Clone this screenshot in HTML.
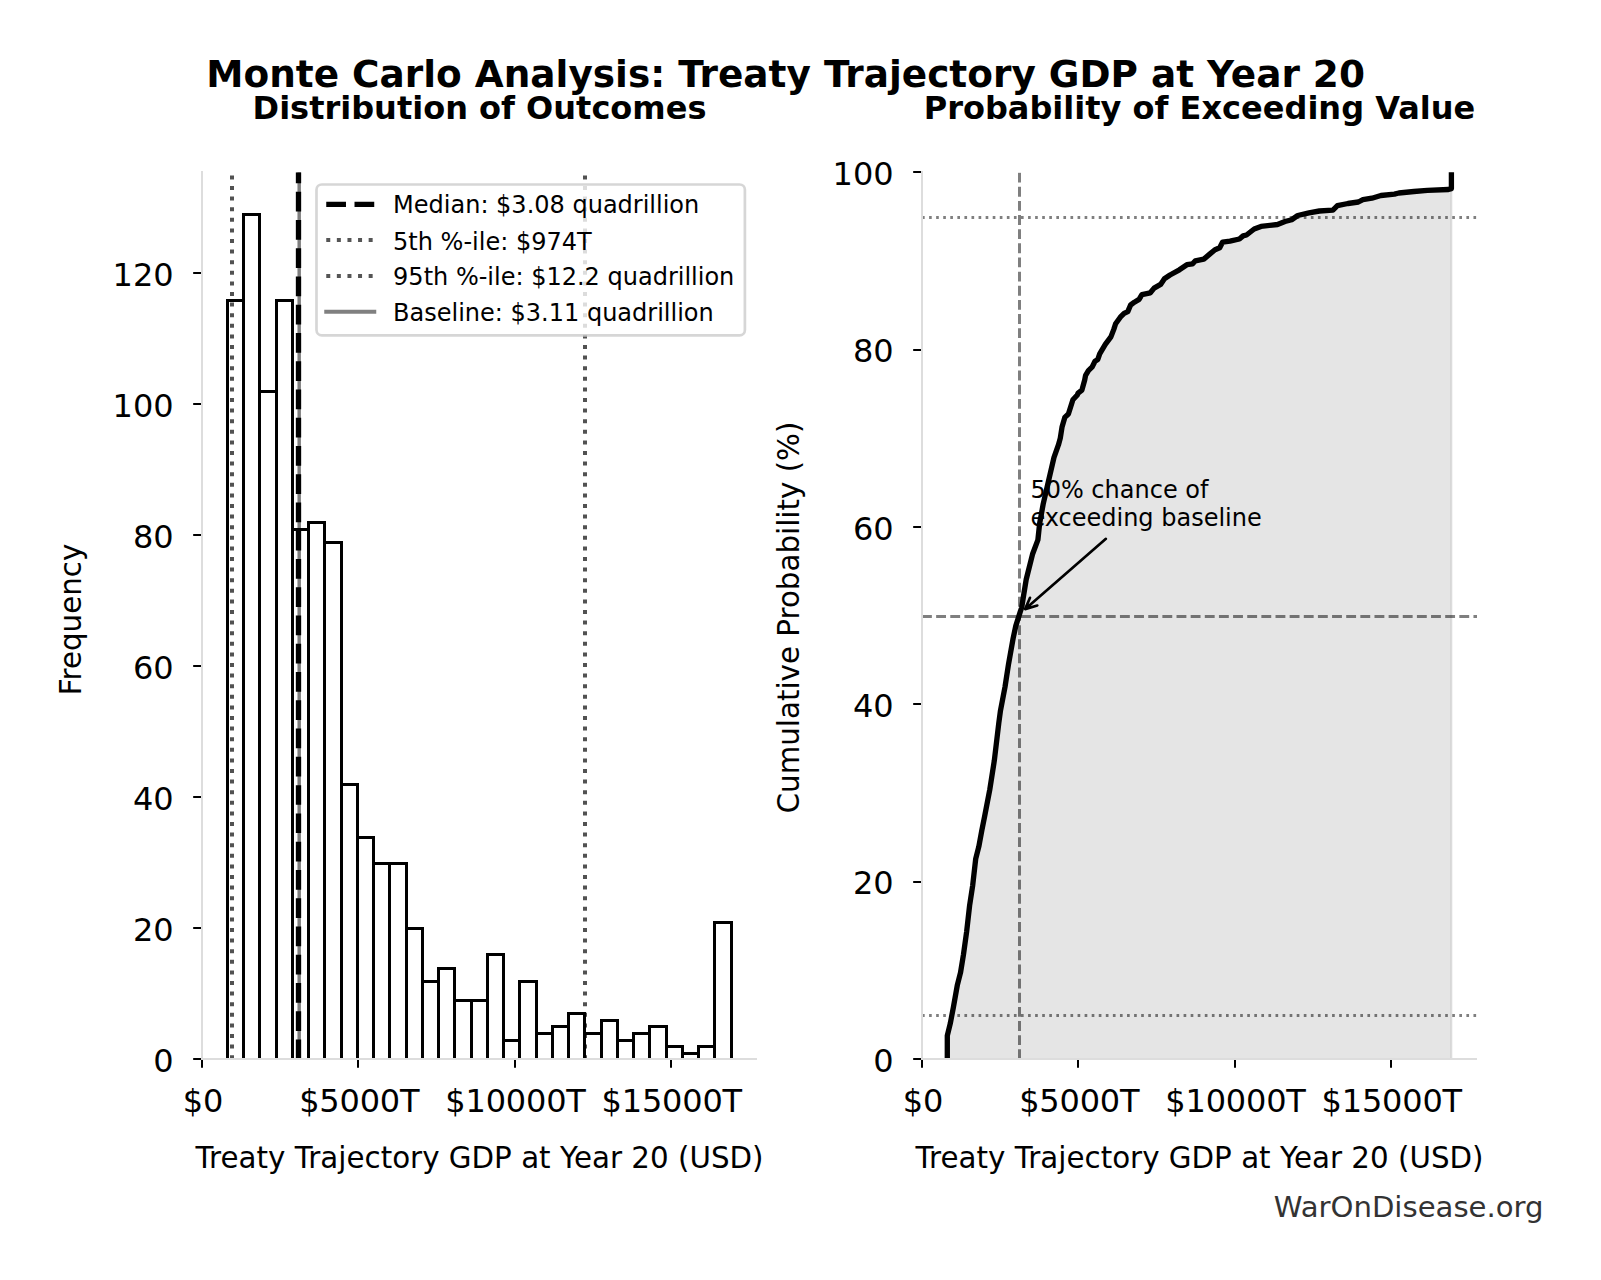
<!DOCTYPE html>
<html lang="en"><head><meta charset="utf-8"><title>Monte Carlo Analysis: Treaty Trajectory GDP at Year 20</title>
<style>html,body{margin:0;padding:0;background:#fff;}body{width:1601px;height:1280px;position:relative;overflow:hidden;font-family:'DejaVu Sans', 'Liberation Sans', sans-serif;}</style>
</head><body>
<svg width="1601" height="1280" viewBox="0 0 1601 1280" style="display:block;position:absolute;left:0;top:0" font-family="'DejaVu Sans', 'Liberation Sans', sans-serif">
<rect x="0" y="0" width="1601" height="1280" fill="#fff"/>
<defs>
<clipPath id="cl"><rect x="202.0" y="172.2" width="555.0" height="887.0"/></clipPath>
<clipPath id="cr"><rect x="922.0" y="172.2" width="555.0" height="887.0"/></clipPath>
</defs>
<g clip-path="url(#cl)">
<rect x="227.50" y="300.50" width="16.00" height="759.00" fill="#fff" stroke="#000" stroke-width="3.00" stroke-linejoin="miter"/>
<rect x="243.50" y="214.50" width="16.00" height="845.00" fill="#fff" stroke="#000" stroke-width="3.00" stroke-linejoin="miter"/>
<rect x="259.50" y="391.50" width="17.00" height="668.00" fill="#fff" stroke="#000" stroke-width="3.00" stroke-linejoin="miter"/>
<rect x="276.50" y="300.50" width="16.00" height="759.00" fill="#fff" stroke="#000" stroke-width="3.00" stroke-linejoin="miter"/>
<rect x="292.50" y="529.50" width="16.00" height="530.00" fill="#fff" stroke="#000" stroke-width="3.00" stroke-linejoin="miter"/>
<rect x="308.50" y="522.50" width="16.00" height="537.00" fill="#fff" stroke="#000" stroke-width="3.00" stroke-linejoin="miter"/>
<rect x="324.50" y="542.50" width="17.00" height="517.00" fill="#fff" stroke="#000" stroke-width="3.00" stroke-linejoin="miter"/>
<rect x="341.50" y="784.50" width="16.00" height="275.00" fill="#fff" stroke="#000" stroke-width="3.00" stroke-linejoin="miter"/>
<rect x="357.50" y="837.50" width="16.00" height="222.00" fill="#fff" stroke="#000" stroke-width="3.00" stroke-linejoin="miter"/>
<rect x="373.50" y="863.50" width="16.00" height="196.00" fill="#fff" stroke="#000" stroke-width="3.00" stroke-linejoin="miter"/>
<rect x="389.50" y="863.50" width="17.00" height="196.00" fill="#fff" stroke="#000" stroke-width="3.00" stroke-linejoin="miter"/>
<rect x="406.50" y="928.50" width="16.00" height="131.00" fill="#fff" stroke="#000" stroke-width="3.00" stroke-linejoin="miter"/>
<rect x="422.50" y="981.50" width="16.00" height="78.00" fill="#fff" stroke="#000" stroke-width="3.00" stroke-linejoin="miter"/>
<rect x="438.50" y="968.50" width="16.00" height="91.00" fill="#fff" stroke="#000" stroke-width="3.00" stroke-linejoin="miter"/>
<rect x="454.50" y="1000.50" width="17.00" height="59.00" fill="#fff" stroke="#000" stroke-width="3.00" stroke-linejoin="miter"/>
<rect x="471.50" y="1000.50" width="16.00" height="59.00" fill="#fff" stroke="#000" stroke-width="3.00" stroke-linejoin="miter"/>
<rect x="487.50" y="954.50" width="16.00" height="105.00" fill="#fff" stroke="#000" stroke-width="3.00" stroke-linejoin="miter"/>
<rect x="503.50" y="1040.50" width="16.00" height="19.00" fill="#fff" stroke="#000" stroke-width="3.00" stroke-linejoin="miter"/>
<rect x="519.50" y="981.50" width="17.00" height="78.00" fill="#fff" stroke="#000" stroke-width="3.00" stroke-linejoin="miter"/>
<rect x="536.50" y="1033.50" width="16.00" height="26.00" fill="#fff" stroke="#000" stroke-width="3.00" stroke-linejoin="miter"/>
<rect x="552.50" y="1026.50" width="16.00" height="33.00" fill="#fff" stroke="#000" stroke-width="3.00" stroke-linejoin="miter"/>
<rect x="568.50" y="1013.50" width="16.00" height="46.00" fill="#fff" stroke="#000" stroke-width="3.00" stroke-linejoin="miter"/>
<rect x="584.50" y="1033.50" width="17.00" height="26.00" fill="#fff" stroke="#000" stroke-width="3.00" stroke-linejoin="miter"/>
<rect x="601.50" y="1020.50" width="16.00" height="39.00" fill="#fff" stroke="#000" stroke-width="3.00" stroke-linejoin="miter"/>
<rect x="617.50" y="1040.50" width="16.00" height="19.00" fill="#fff" stroke="#000" stroke-width="3.00" stroke-linejoin="miter"/>
<rect x="633.50" y="1033.50" width="16.00" height="26.00" fill="#fff" stroke="#000" stroke-width="3.00" stroke-linejoin="miter"/>
<rect x="649.50" y="1026.50" width="17.00" height="33.00" fill="#fff" stroke="#000" stroke-width="3.00" stroke-linejoin="miter"/>
<rect x="666.50" y="1046.50" width="16.00" height="13.00" fill="#fff" stroke="#000" stroke-width="3.00" stroke-linejoin="miter"/>
<rect x="682.50" y="1053.50" width="16.00" height="6.00" fill="#fff" stroke="#000" stroke-width="3.00" stroke-linejoin="miter"/>
<rect x="698.50" y="1046.50" width="16.00" height="13.00" fill="#fff" stroke="#000" stroke-width="3.00" stroke-linejoin="miter"/>
<rect x="714.50" y="922.50" width="17.00" height="137.00" fill="#fff" stroke="#000" stroke-width="3.00" stroke-linejoin="miter"/>
<line x1="299.19" y1="1059.2" x2="299.19" y2="172.2" stroke="rgba(0,0,0,0.5)" stroke-width="3.47"/>
<line x1="232.00" y1="1059.2" x2="232.00" y2="172.2" stroke="rgba(0,0,0,0.68)" stroke-width="4.00" stroke-dasharray="4.00 6.60"/>
<line x1="585.00" y1="1059.2" x2="585.00" y2="172.2" stroke="rgba(0,0,0,0.68)" stroke-width="4.00" stroke-dasharray="4.00 6.60"/>
<line x1="298.50" y1="1059.2" x2="298.50" y2="172.2" stroke="#000" stroke-width="5.33" stroke-dasharray="19.73 8.53"/>
</g>
<g clip-path="url(#cr)">
<polygon points="947.3,1059.2 947.3,1059.0 947.3,1035.6 950.3,1023.4 953.4,1007.2 957.4,984.8 960.5,972.7 963.5,954.4 966.6,932.0 969.6,905.6 972.7,885.3 975.7,858.9 978.8,846.7 981.8,830.5 984.6,816.5 989.8,789.5 994.3,760.7 998.8,723.0 1000.5,710.4 1005.0,687.0 1008.6,663.7 1013.1,638.5 1015.8,625.9 1020.3,611.6 1021.7,607.5 1023.9,593.6 1026.2,579.5 1032.5,554.3 1037.9,539.9 1039.6,523.8 1043.2,504.0 1048.6,480.6 1054.0,457.3 1058.5,444.7 1060.3,438.1 1062.1,426.7 1064.8,417.4 1068.4,414.0 1072.9,399.8 1077.3,395.0 1078.1,393.1 1081.9,390.1 1084.7,380.0 1085.6,375.3 1088.4,370.6 1092.2,366.9 1095.0,361.2 1097.8,359.4 1099.7,353.8 1105.3,344.4 1110.9,336.9 1113.8,329.4 1115.6,323.8 1120.3,317.2 1124.1,313.4 1127.8,311.6 1130.6,305.0 1134.4,302.2 1139.1,299.4 1141.9,294.7 1150.3,292.8 1154.1,288.1 1160.6,284.4 1164.4,278.8 1170.0,275.0 1179.4,269.8 1186.9,264.7 1192.5,263.8 1195.3,260.9 1203.8,259.1 1209.4,254.4 1215.0,249.7 1219.7,247.8 1222.5,242.2 1230.0,241.2 1239.4,239.0 1243.1,235.9 1246.5,235.0 1254.2,229.0 1261.0,226.4 1277.5,224.5 1285.0,221.5 1291.7,219.7 1297.7,215.5 1309.0,212.8 1319.4,211.0 1332.9,210.2 1337.4,205.7 1347.9,203.5 1358.4,202.0 1362.9,199.7 1371.9,198.2 1380.9,195.5 1394.4,194.2 1398.9,193.0 1413.9,191.5 1427.4,190.4 1448.4,189.5 1451.4,188.6 1451.4,172.0 1451.4,1059.2" fill="rgba(0,0,0,0.1)" stroke="rgba(0,0,0,0.1)" stroke-width="2.00" stroke-linejoin="miter"/>
<line x1="922.0" y1="616.5" x2="1477.0" y2="616.5" stroke="rgba(0,0,0,0.5)" stroke-width="3" stroke-dasharray="9.87 4.27"/>
<line x1="1019.50" y1="1059.2" x2="1019.50" y2="172.2" stroke="rgba(0,0,0,0.5)" stroke-width="3" stroke-dasharray="9.87 4.27"/>
<line x1="922.0" y1="1015.5" x2="1477.0" y2="1015.5" stroke="rgba(0,0,0,0.5)" stroke-width="3" stroke-dasharray="2.67 4.40"/>
<line x1="922.0" y1="217.5" x2="1477.0" y2="217.5" stroke="rgba(0,0,0,0.5)" stroke-width="3" stroke-dasharray="2.67 4.40"/>
<text x="1030.4" y="497.6" font-size="24.00">50% chance of</text>
<text x="1030.4" y="525.6" font-size="24.00">exceeding baseline</text>
<polyline points="947.3,1059.2 947.3,1059.0 947.3,1035.6 950.3,1023.4 953.4,1007.2 957.4,984.8 960.5,972.7 963.5,954.4 966.6,932.0 969.6,905.6 972.7,885.3 975.7,858.9 978.8,846.7 981.8,830.5 984.6,816.5 989.8,789.5 994.3,760.7 998.8,723.0 1000.5,710.4 1005.0,687.0 1008.6,663.7 1013.1,638.5 1015.8,625.9 1020.3,611.6 1021.7,607.5 1023.9,593.6 1026.2,579.5 1032.5,554.3 1037.9,539.9 1039.6,523.8 1043.2,504.0 1048.6,480.6 1054.0,457.3 1058.5,444.7 1060.3,438.1 1062.1,426.7 1064.8,417.4 1068.4,414.0 1072.9,399.8 1077.3,395.0 1078.1,393.1 1081.9,390.1 1084.7,380.0 1085.6,375.3 1088.4,370.6 1092.2,366.9 1095.0,361.2 1097.8,359.4 1099.7,353.8 1105.3,344.4 1110.9,336.9 1113.8,329.4 1115.6,323.8 1120.3,317.2 1124.1,313.4 1127.8,311.6 1130.6,305.0 1134.4,302.2 1139.1,299.4 1141.9,294.7 1150.3,292.8 1154.1,288.1 1160.6,284.4 1164.4,278.8 1170.0,275.0 1179.4,269.8 1186.9,264.7 1192.5,263.8 1195.3,260.9 1203.8,259.1 1209.4,254.4 1215.0,249.7 1219.7,247.8 1222.5,242.2 1230.0,241.2 1239.4,239.0 1243.1,235.9 1246.5,235.0 1254.2,229.0 1261.0,226.4 1277.5,224.5 1285.0,221.5 1291.7,219.7 1297.7,215.5 1309.0,212.8 1319.4,211.0 1332.9,210.2 1337.4,205.7 1347.9,203.5 1358.4,202.0 1362.9,199.7 1371.9,198.2 1380.9,195.5 1394.4,194.2 1398.9,193.0 1413.9,191.5 1427.4,190.4 1448.4,189.5 1451.4,188.6 1451.4,172.0" fill="none" stroke="#000" stroke-width="5.33" stroke-linejoin="round" stroke-linecap="square"/>
<path d="M1105.9 538.8 L1025.6 608.7 M1030.0 597.8 L1025.1 609.1 L1037.3 605.5" fill="none" stroke="#000" stroke-width="2.67" stroke-linecap="round" stroke-linejoin="round"/>
</g>
<line x1="202.0" y1="171.10" x2="202.0" y2="1060" stroke="#dddddd" stroke-width="2"/>
<line x1="201.0" y1="1059" x2="757.0" y2="1059" stroke="#dddddd" stroke-width="2"/>
<line x1="922.0" y1="171.10" x2="922.0" y2="1060" stroke="#dddddd" stroke-width="2"/>
<line x1="921.0" y1="1059" x2="1477.0" y2="1059" stroke="#dddddd" stroke-width="2"/>
<line x1="202" y1="1060.00" x2="202" y2="1067.83" stroke="#000" stroke-width="2"/>
<text x="203.00" y="1112.2" font-size="32.00" text-anchor="middle" letter-spacing="-0.2">$0</text>
<line x1="358" y1="1060.00" x2="358" y2="1067.83" stroke="#000" stroke-width="2"/>
<text x="359.25" y="1112.2" font-size="32.00" text-anchor="middle" letter-spacing="-0.2">$5000T</text>
<line x1="515" y1="1060.00" x2="515" y2="1067.83" stroke="#000" stroke-width="2"/>
<text x="515.50" y="1112.2" font-size="32.00" text-anchor="middle" letter-spacing="-0.2">$10000T</text>
<line x1="671" y1="1060.00" x2="671" y2="1067.83" stroke="#000" stroke-width="2"/>
<text x="671.75" y="1112.2" font-size="32.00" text-anchor="middle" letter-spacing="-0.2">$15000T</text>
<line x1="922" y1="1060.00" x2="922" y2="1067.83" stroke="#000" stroke-width="2"/>
<text x="923.00" y="1112.2" font-size="32.00" text-anchor="middle" letter-spacing="-0.2">$0</text>
<line x1="1078" y1="1060.00" x2="1078" y2="1067.83" stroke="#000" stroke-width="2"/>
<text x="1079.25" y="1112.2" font-size="32.00" text-anchor="middle" letter-spacing="-0.2">$5000T</text>
<line x1="1235" y1="1060.00" x2="1235" y2="1067.83" stroke="#000" stroke-width="2"/>
<text x="1235.50" y="1112.2" font-size="32.00" text-anchor="middle" letter-spacing="-0.2">$10000T</text>
<line x1="1391" y1="1060.00" x2="1391" y2="1067.83" stroke="#000" stroke-width="2"/>
<text x="1391.75" y="1112.2" font-size="32.00" text-anchor="middle" letter-spacing="-0.2">$15000T</text>
<line x1="201.0" y1="1059" x2="193.17" y2="1059" stroke="#000" stroke-width="2"/>
<text x="173.70" y="1071.80" font-size="32.00" text-anchor="end">0</text>
<line x1="201.0" y1="928" x2="193.17" y2="928" stroke="#000" stroke-width="2"/>
<text x="173.70" y="940.83" font-size="32.00" text-anchor="end">20</text>
<line x1="201.0" y1="797" x2="193.17" y2="797" stroke="#000" stroke-width="2"/>
<text x="173.70" y="809.86" font-size="32.00" text-anchor="end">40</text>
<line x1="201.0" y1="666" x2="193.17" y2="666" stroke="#000" stroke-width="2"/>
<text x="173.70" y="678.89" font-size="32.00" text-anchor="end">60</text>
<line x1="201.0" y1="535" x2="193.17" y2="535" stroke="#000" stroke-width="2"/>
<text x="173.70" y="547.92" font-size="32.00" text-anchor="end">80</text>
<line x1="201.0" y1="404" x2="193.17" y2="404" stroke="#000" stroke-width="2"/>
<text x="173.70" y="416.95" font-size="32.00" text-anchor="end">100</text>
<line x1="201.0" y1="273" x2="193.17" y2="273" stroke="#000" stroke-width="2"/>
<text x="173.70" y="285.97" font-size="32.00" text-anchor="end">120</text>
<line x1="921.0" y1="1059" x2="913.17" y2="1059" stroke="#000" stroke-width="2"/>
<text x="893.70" y="1071.80" font-size="32.00" text-anchor="end">0</text>
<line x1="921.0" y1="882" x2="913.17" y2="882" stroke="#000" stroke-width="2"/>
<text x="893.70" y="894.40" font-size="32.00" text-anchor="end">20</text>
<line x1="921.0" y1="704" x2="913.17" y2="704" stroke="#000" stroke-width="2"/>
<text x="893.70" y="717.00" font-size="32.00" text-anchor="end">40</text>
<line x1="921.0" y1="527" x2="913.17" y2="527" stroke="#000" stroke-width="2"/>
<text x="893.70" y="539.60" font-size="32.00" text-anchor="end">60</text>
<line x1="921.0" y1="350" x2="913.17" y2="350" stroke="#000" stroke-width="2"/>
<text x="893.70" y="362.20" font-size="32.00" text-anchor="end">80</text>
<line x1="921.0" y1="172" x2="913.17" y2="172" stroke="#000" stroke-width="2"/>
<text x="893.70" y="184.80" font-size="32.00" text-anchor="end">100</text>
<rect x="316.5" y="184.5" width="428.4" height="150.8" rx="5.3" ry="5.3" fill="rgba(255,255,255,0.8)" stroke="rgba(204,204,204,0.8)" stroke-width="2.67"/>
<line x1="326.25" y1="204.3" x2="374.25" y2="204.3" stroke="#000" stroke-width="5.33" stroke-dasharray="19.73 8.53"/>
<line x1="326.25" y1="240.1" x2="374.25" y2="240.1" stroke="#555" stroke-width="4.00" stroke-dasharray="4.00 6.60"/>
<line x1="326.25" y1="275.9" x2="374.25" y2="275.9" stroke="#555" stroke-width="4.00" stroke-dasharray="4.00 6.60"/>
<line x1="326.25" y1="311.7" x2="374.25" y2="311.7" stroke="#808080" stroke-width="4.00" stroke-linecap="square"/>
<text x="393.1" y="212.7" font-size="24.00">Median: $3.08 quadrillion</text>
<text x="393.1" y="249.5" font-size="24.00">5th %-ile: $974T</text>
<text x="393.1" y="284.9" font-size="24.00">95th %-ile: $12.2 quadrillion</text>
<text x="393.1" y="320.7" font-size="24.00">Baseline: $3.11 quadrillion</text>
<text x="785.6" y="87" font-size="37.41" font-weight="bold" text-anchor="middle">Monte Carlo Analysis: Treaty Trajectory GDP at Year 20</text>
<text x="479.5" y="118.75" font-size="32.00" font-weight="bold" text-anchor="middle">Distribution of Outcomes</text>
<text x="1199.5" y="118.75" font-size="32.00" font-weight="bold" text-anchor="middle">Probability of Exceeding Value</text>
<text x="479.5" y="1167.5" font-size="29.33" text-anchor="middle">Treaty Trajectory GDP at Year 20 (USD)</text>
<text x="1199.5" y="1167.5" font-size="29.33" text-anchor="middle">Treaty Trajectory GDP at Year 20 (USD)</text>
<text transform="translate(81.4,619.5) rotate(-90)" font-size="29.33" text-anchor="middle">Frequency</text>
<text transform="translate(798.8,617.5) rotate(-90)" font-size="29.33" text-anchor="middle">Cumulative Probability (%)</text>
<text x="1543.6" y="1217" font-size="29.15" text-anchor="end" fill="#333">WarOnDisease.org</text>
</svg>
</body></html>
